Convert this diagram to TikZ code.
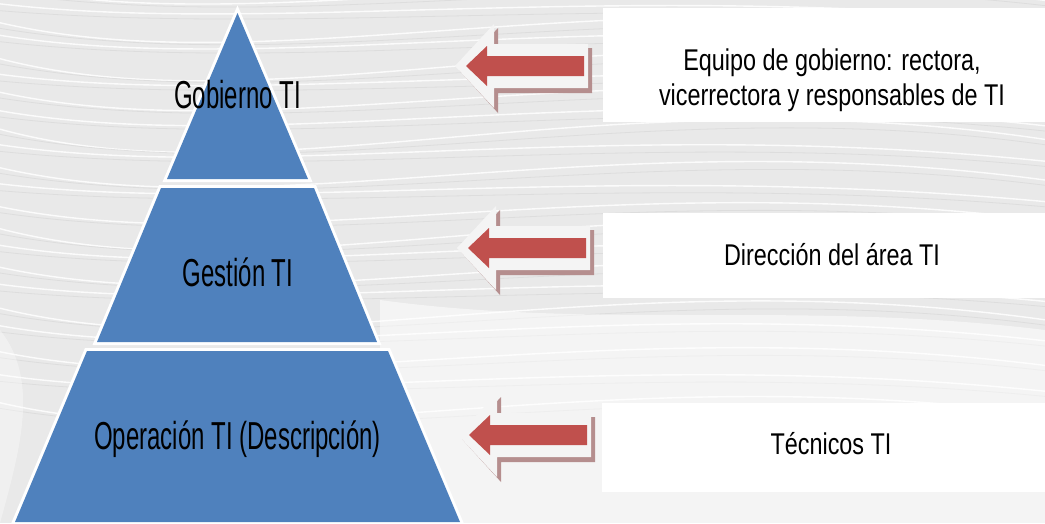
\documentclass[tikz,border=0pt]{standalone}
\usepackage{fontspec}
\setmainfont{Liberation Sans}
\newfontfamily\pyrfont{Liberation Sans}[FakeStretch=0.615]
\newfontfamily\boxfont{Liberation Sans}[FakeStretch=0.78]
\definecolor{pyrblue}{HTML}{4F81BD}
\definecolor{arrred}{HTML}{C0504D}
\definecolor{arrgray}{HTML}{F4F4F4}
\definecolor{arrshadow}{HTML}{B58E8E}
\definecolor{bgbase}{HTML}{E9E9E9}
\definecolor{bgline}{HTML}{D8D8D8}
\tikzset{
  pyrpiece/.style={fill=pyrblue, preaction={draw=white, line width=6, line join=miter}},
  pyrtext/.style={anchor=base, inner sep=0, font=\pyrfont\fontsize{39}{39}\selectfont},
  boxtext/.style={anchor=base, inner sep=0, align=center, font=\boxfont\fontsize{30}{35}\selectfont},
  whitebox/.style={fill=white},
  streak/.style={white, line width=1.4, opacity=0.85},
  darkstreak/.style={bgline, line width=0.8, opacity=0.7}
}
% block arrow: #1 = tip x, #2 = centre y
\newcommand{\blockarrow}[2]{%
  \fill[arrshadow] ({#1+4},{#2+4}) -- ({#1+43},{#2-38}) -- ({#1+43},{#2-18}) -- ({#1+137},{#2-18})
     -- ({#1+137},{#2+27}) -- ({#1+43},{#2+27}) -- ({#1+43},{#2+47}) -- cycle;
  \fill[arrgray] (#1,#2) -- ({#1+39},{#2-42}) -- ({#1+39},{#2-22}) -- ({#1+133},{#2-22})
     -- ({#1+133},{#2+22}) -- ({#1+39},{#2+22}) -- ({#1+39},{#2+42}) -- cycle;
  \fill[arrred] ({#1+11},#2) -- ({#1+32},{#2-20}) -- ({#1+32},{#2-10}) -- ({#1+129},{#2-10})
     -- ({#1+129},{#2+10}) -- ({#1+32},{#2+10}) -- ({#1+32},{#2+20}) -- cycle;
}
\begin{document}
\begin{tikzpicture}[x=1pt,y=-1pt]
\useasboundingbox (0,0) rectangle (1045,523);
% background
\fill[bgbase] (0,0) rectangle (1045,523);
\begin{scope}
  \clip (0,0) rectangle (1045,523);
  \foreach \y/\d in {-40/50,-20/70,0/40,15/80,30/55,50/90,70/45,85/75,105/60,120/95,140/50,160/80,180/40,200/70,220/90,240/55,260/75,280/45,300/85,320/60,345/70,370/50,395/80}{
    \draw[streak] (-30,\y) .. controls (250,{\y+\d}) and (600,{\y-\d*0.6}) .. (1080,{\y+25});
    \draw[darkstreak] (-30,{\y+8}) .. controls (300,{\y+8+\d*0.8}) and (650,{\y+8-\d*0.5}) .. (1080,{\y+30});
  }
  \fill[white, opacity=0.5] (380,300) .. controls (600,330) and (800,300) .. (1045,330) -- (1045,523) -- (380,523) -- cycle;
  \fill[white, opacity=0.35] (0,330) .. controls (40,380) and (20,450) .. (0,523) -- cycle;
\end{scope}
% right white boxes
\fill[whitebox] (603,8) rectangle (1045,122);
\fill[whitebox] (603,213) rectangle (1045,298);
\fill[whitebox] (602,403) rectangle (1045,492);
% pyramid
\path[pyrpiece] (237.5,13) -- (308,179) -- (167,179) -- cycle;
\path[pyrpiece] (161,188) -- (314,188) -- (377,342) -- (97,342) -- cycle;
\path[pyrpiece] (87,351) -- (388,351) -- (460,522) -- (15,522) -- cycle;
\node[pyrtext] (gob) at (237.5,108) {Gobierno TI};
\node[pyrtext] (ges) at (238,286) {Gestión TI};
\node[pyrtext] (ope) at (237.5,449) {Operación TI (Descripción)};
% arrows
\blockarrow{455}{66}
\blockarrow{457}{248}
\blockarrow{458}{435}
% right texts
\node[boxtext] (equipo) at (832,105) {Equipo de gobierno: rectora,\\vicerrectora y responsables de TI};
\node[boxtext] (direccion) at (832,265) {Dirección del área TI};
\node[boxtext] (tecnicos) at (831,454) {Técnicos TI};
\end{tikzpicture}
\end{document}
